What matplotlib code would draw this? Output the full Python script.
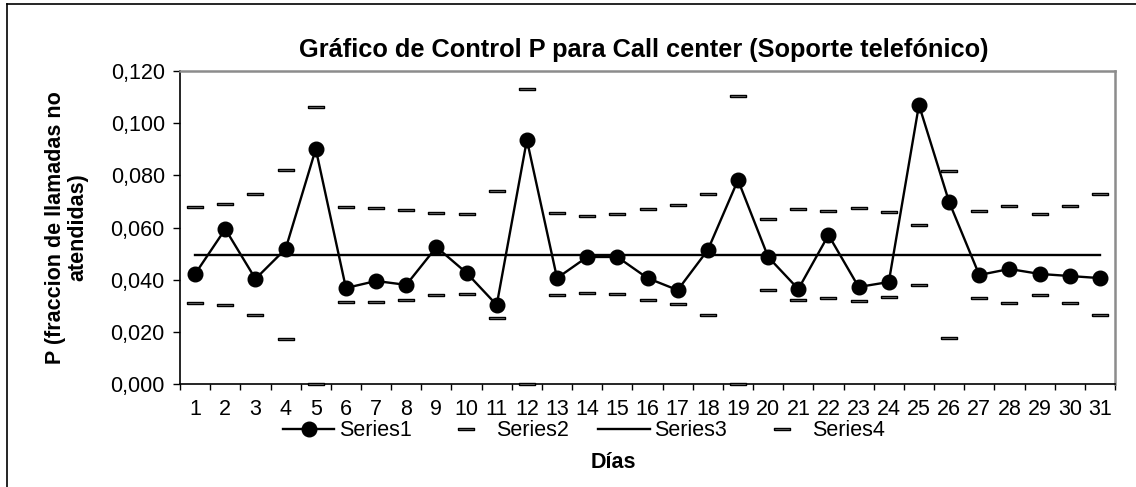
import matplotlib.pyplot as plt
from matplotlib.lines import Line2D
from matplotlib.ticker import FuncFormatter, FixedLocator

dias = list(range(1, 32))

# Series1: fraccion de llamadas no atendidas por dia
p = [0.0422, 0.0594, 0.0403, 0.0518, 0.0901, 0.0368, 0.0395, 0.0380,
     0.0525, 0.0426, 0.0303, 0.0936, 0.0406, 0.0487, 0.0487, 0.0406,
     0.0360, 0.0514, 0.0782, 0.0487, 0.0364, 0.0571, 0.0372, 0.0391,
     0.1070, 0.0698, 0.0418, 0.0441, 0.0422, 0.0414, 0.0406]

# Series2: limite superior
lcs = [0.0680, 0.0691, 0.0729, 0.0821, 0.1063, 0.0678, 0.0674, 0.0668,
       0.0654, 0.0650, 0.0740, 0.1130, 0.0654, 0.0644, 0.0650, 0.0672,
       0.0686, 0.0729, 0.1104, 0.0633, 0.0670, 0.0662, 0.0674, 0.0660,
       0.0610, 0.0817, 0.0665, 0.0684, 0.0653, 0.0683, 0.0729]

# Series3: linea central
lc = [0.0495] * 31

# Series4: limite inferior
lci = [0.0312, 0.0302, 0.0263, 0.0171, 0.0000, 0.0316, 0.0316, 0.0323,
       0.0340, 0.0344, 0.0253, 0.0000, 0.0340, 0.0349, 0.0344, 0.0321,
       0.0306, 0.0266, 0.0000, 0.0360, 0.0323, 0.0331, 0.0318, 0.0335,
       0.0380, 0.0176, 0.0329, 0.0310, 0.0341, 0.0310, 0.0263]

plt.rcParams['font.family'] = ['Liberation Sans', 'DejaVu Sans']
fs = 15.5

fig = plt.figure(figsize=(11.36, 4.87), dpi=100)
ax = fig.add_axes([0.1585, 0.2115, 0.823, 0.6427])

dash = [(-1, -0.18), (1, -0.18), (1, 0.18), (-1, 0.18), (-1, -0.18)]

ax.plot(dias, p, color='black', lw=1.7, marker='o', ms=10.5, label='Series1', zorder=4)
ax.plot(dias, lcs, ls='none', marker=dash, ms=11.5, mfc='#8c8c8c', mec='black',
        mew=1.0, label='Series2', clip_on=False, zorder=3)
ax.plot(dias, lc, color='black', lw=1.7, label='Series3', zorder=2)
ax.plot(dias, lci, ls='none', marker=dash, ms=11.5, mfc='#8c8c8c', mec='black',
        mew=1.0, label='Series4', clip_on=False, zorder=3)

ax.set_xlim(0.5, 31.5)
ax.set_ylim(0, 0.12)
ax.set_yticks([0, 0.02, 0.04, 0.06, 0.08, 0.10, 0.12])
ax.yaxis.set_major_formatter(FuncFormatter(lambda v, pos: f"{v:.3f}".replace('.', ',')))
ax.set_xticks(dias)
ax.xaxis.set_minor_locator(FixedLocator([d + 0.5 for d in range(0, 32)]))
ax.tick_params(axis='x', which='major', length=0, pad=11, labelsize=fs)
ax.tick_params(axis='x', which='minor', length=4.5, width=1, color='black')
ax.tick_params(axis='y', length=5, width=1, pad=6, labelsize=fs)

for s in ['left', 'bottom']:
    ax.spines[s].set_color('black')
    ax.spines[s].set_linewidth(1.2)
for s in ['top', 'right']:
    ax.spines[s].set_color('#8c8c8c')
    ax.spines[s].set_linewidth(1.8)

ax.set_ylabel('P (fraccion de llamadas no\natendidas)', fontsize=fs,
              fontweight='bold', linespacing=1.1)
ax.yaxis.set_label_coords(-0.098, 0.5)

fig.text(0.567, 0.897, 'Gráfico de Control P para Call center (Soporte telefónico)',
         ha='center', va='center', fontsize=18.3, fontweight='bold')
fig.text(0.54, 0.051, 'Días', ha='center', va='center', fontsize=fs, fontweight='bold')

fig.legend(*ax.get_legend_handles_labels(), loc='center', bbox_to_anchor=(0.514, 0.115),
           ncol=4, frameon=False, fontsize=fs, handlelength=2.4, columnspacing=1.35,
           handletextpad=0.2, borderpad=0)

# marco exterior del grafico
fig.add_artist(Line2D([7 / 1136, 1], [1 - 4 / 487, 1 - 4 / 487], color='black', lw=1.2))
fig.add_artist(Line2D([7 / 1136, 7 / 1136], [0, 1 - 4 / 487], color='black', lw=1.2))

fig.savefig('out.png', dpi=100)
